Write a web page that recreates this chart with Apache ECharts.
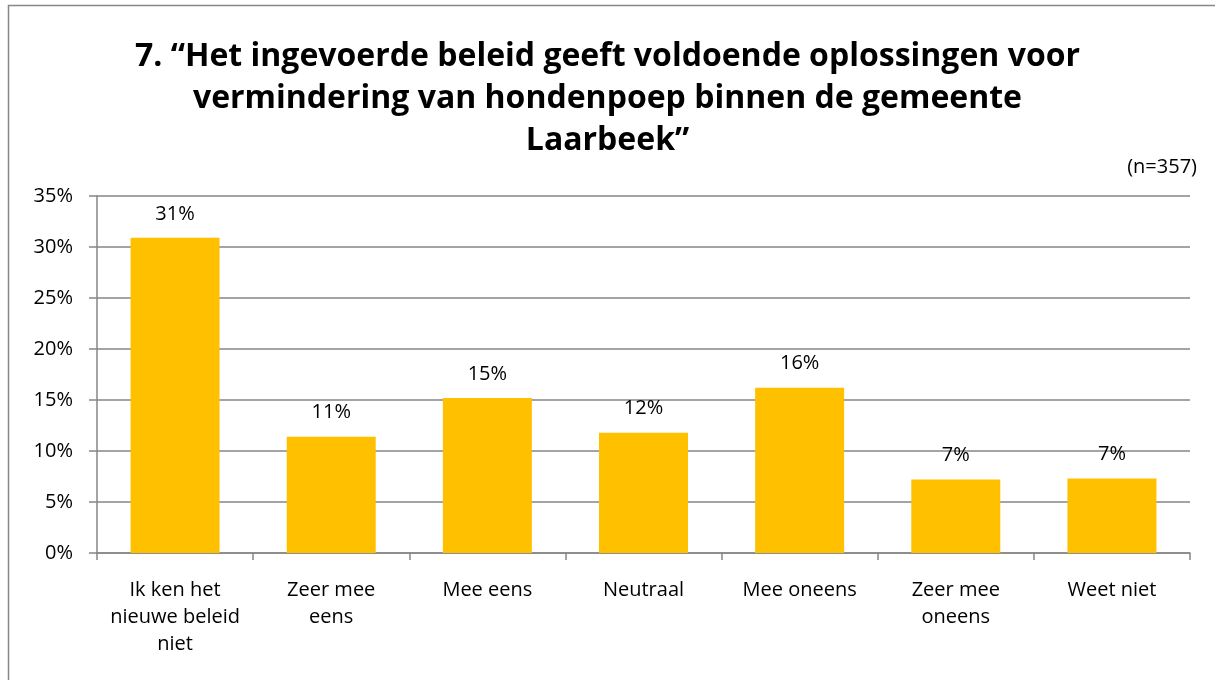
<!DOCTYPE html>
<html style="height: 100%">
   <head>
       <meta charset="utf-8">
   </head>
   <body style="height: 100%; margin: 0; background: #fff">
       <div id="container" style="height: 680px; width: 1215px"></div>
       <script type="text/javascript" src="https://cdn.jsdelivr.net/npm/echarts/dist/echarts.min.js"></script>
       <script type="text/javascript">
var categories = ['Ik ken het\nnieuwe beleid\nniet', 'Zeer mee\neens', 'Mee eens', 'Neutraal', 'Mee oneens', 'Zeer mee\noneens', 'Weet niet'];
var values = [30.9, 11.4, 15.2, 11.8, 16.2, 7.2, 7.3];
var titleText = '7. \u201CHet ingevoerde beleid geeft voldoende oplossingen voor\nvermindering van hondenpoep binnen de gemeente\nLaarbeek\u201D';
var noteText = '(n=357)';

var dom = document.getElementById("container");
var myChart = echarts.init(dom);
var font = '"Open Sans", Lato, sans-serif';
var option = {
        animation: false,
        textStyle: { fontFamily: font },
        title: {
            text: titleText,
            left: 'center',
            top: 31,
            textStyle: {
                fontFamily: font,
                fontSize: 32,
                fontWeight: 'bold',
                color: '#000',
                lineHeight: 42
            }
        },
        graphic: [
            {
                type: 'rect',
                shape: { x: 8.5, y: 5.5, width: 1300, height: 800 },
                style: { fill: null, stroke: '#868686', lineWidth: 1.5 },
                silent: true
            },
            {
                type: 'text',
                right: 18,
                top: 157,
                style: { text: noteText, font: '20px ' + font, fill: '#000' }
            }
        ],
        grid: {
            top: 196,
            right: 25,
            bottom: 127,
            left: 97
        },
        xAxis: {
            type: 'category',
            data: categories,
            axisLine: { lineStyle: { color: '#868686', width: 1.5 } },
            axisTick: { show: true, length: 7, lineStyle: { color: '#868686', width: 1.5 } },
            axisLabel: {
                color: '#000',
                fontSize: 20,
                lineHeight: 27,
                margin: 24,
                interval: 0
            }
        },
        yAxis: {
            type: 'value',
            min: 0,
            max: 35,
            interval: 5,
            axisLine: { show: true, lineStyle: { color: '#868686', width: 1.5 } },
            axisTick: { show: true, length: 8, lineStyle: { color: '#868686', width: 1.5 } },
            splitLine: { lineStyle: { color: '#868686', width: 1.5 } },
            axisLabel: {
                color: '#000',
                fontSize: 20,
                margin: 24,
                formatter: '{value}%'
            }
        },
        series: [
            {
                type: 'bar',
                data: values,
                barWidth: '57%',
                itemStyle: { color: '#FFC000' },
                label: {
                    show: true,
                    position: 'top',
                    distance: 14,
                    color: '#000',
                    fontSize: 20,
                    formatter: function (p) { return Math.round(p.value) + '%'; }
                }
            }
        ]
    };

myChart.setOption(option, true);
       </script>
   </body>
</html>
